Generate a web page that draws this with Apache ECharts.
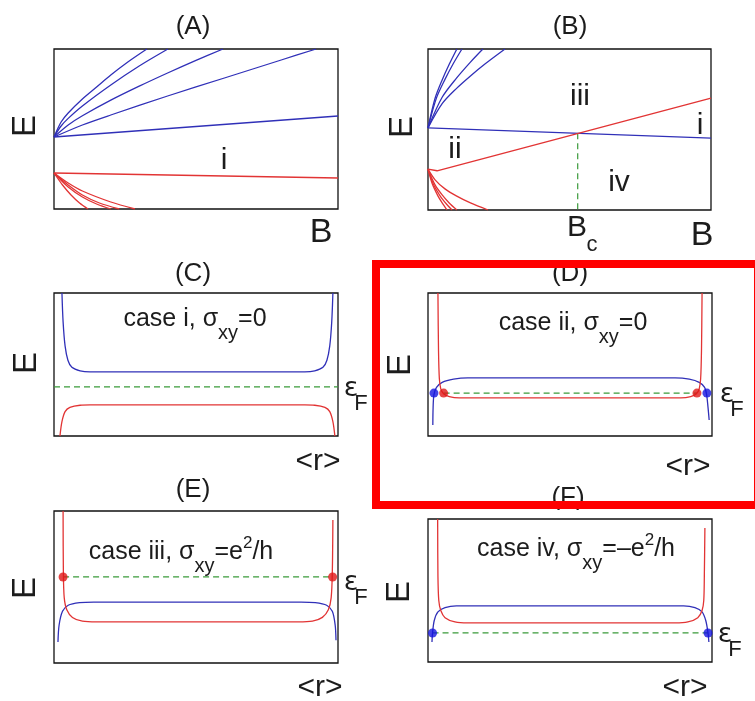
<!DOCTYPE html>
<html>
<head>
<meta charset="utf-8">
<script src="https://cdn.jsdelivr.net/npm/echarts@6/dist/echarts.min.js"></script>
<style>
  html, body { margin: 0; padding: 0; background: #ffffff; }
  #chart { width: 755px; height: 701px; }
</style>
</head>
<body>
<div id="chart"></div>
<script>
// ---------- Panel (A): Landau levels vs B, normal regime (B from 0 to 10, E from -4 to 4)
const aBlueZero = [[0, -0.4], [10, 0.65]];
const aBlueFan = [
  [[0, -0.4], [0.25, 0.35], [0.5, 0.8], [1, 1.5], [1.5, 2.1], [2, 2.7], [2.6, 3.35], [3.27, 4.0]],
  [[0, -0.4], [0.25, 0.15], [0.5, 0.53], [1, 1.15], [2, 2.2], [3, 3.15], [4.01, 4.0]],
  [[0, -0.4], [0.5, 0.2], [1, 0.66], [2, 1.44], [3, 2.14], [4, 2.8], [5, 3.43], [5.95, 4.0]],
  [[0, -0.4], [1, 0.2], [2, 0.7], [4, 1.65], [6, 2.55], [8, 3.45], [9.23, 4.0]]
];
const aRedZero = [[0, -2.2], [10, -2.45]];
const aRedFan = [
  [[0, -2.2], [0.3, -2.8], [0.6, -3.3], [0.9, -3.7], [1.2, -4.0]],
  [[0, -2.2], [0.5, -2.9], [1, -3.4], [1.5, -3.75], [2.0, -4.0]],
  [[0, -2.2], [0.5, -2.8], [1, -3.3], [1.6, -3.7], [2.3, -4.0]],
  [[0, -2.2], [0.5, -2.7], [1, -3.1], [2, -3.65], [2.85, -4.0]]
];

// ---------- Panel (B): inverted regime, zero modes cross at B_c
const bBlueZero = [[0, 0.08], [10, -0.43]];
const bBlueFan = [
  [[0, 0.08], [0.25, 1.55], [0.5, 2.46], [0.75, 3.24], [1.02, 4.0]],
  [[0, 0.08], [0.3, 1.57], [0.6, 2.49], [0.9, 3.29], [1.2, 4.0]],
  [[0, 0.08], [0.5, 1.6], [1, 2.54], [1.5, 3.35], [1.94, 4.0]],
  [[0, 0.08], [0.5, 1.28], [1, 2.03], [1.5, 2.66], [2, 3.24], [2.72, 4.0]]
];
const bRedZero = [[0, -1.97], [0.32, -2.05], [10, 1.56]];
const bRedFan = [
  [[0, -1.97], [0.15, -2.7], [0.35, -3.3], [0.5, -3.65], [0.67, -4.0]],
  [[0, -1.97], [0.2, -2.75], [0.45, -3.35], [0.65, -3.7], [0.85, -4.0]],
  [[0, -1.97], [0.25, -2.75], [0.5, -3.25], [0.75, -3.65], [1.02, -4.0]],
  [[0, -1.97], [0.25, -2.5], [0.6, -2.95], [1.0, -3.3], [1.5, -3.65], [2.12, -4.0]]
];
const bCritical = [[5.29, -0.19], [5.29, -4.0]];

// ---------- Panels (C)-(F): edge spectra E vs <r> (r from 0 to 10, E from 0 to 10)
const cBlue = [[0.28, 10], [0.32, 8], [0.39, 6.3], [0.49, 5.3], [0.63, 4.8], [0.92, 4.55], [1.27, 4.48],
  [8.83, 4.48], [9.18, 4.55], [9.47, 4.8], [9.61, 5.3], [9.71, 6.3], [9.78, 8], [9.82, 10]];
const cRed = [[0.21, 0], [0.28, 1.0], [0.39, 1.7], [0.56, 2.0], [0.92, 2.15], [1.27, 2.17],
  [8.83, 2.17], [9.18, 2.15], [9.54, 2.0], [9.71, 1.7], [9.82, 1.0], [9.89, 0]];
const cFermi = [[0, 3.43], [10, 3.43]];

const dRed = [[0.35, 10], [0.37, 6], [0.40, 4.0], [0.45, 3.3], [0.55, 2.95], [0.75, 2.75], [1.1, 2.66],
  [8.9, 2.66], [9.25, 2.75], [9.45, 2.95], [9.55, 3.3], [9.6, 4.0], [9.63, 6], [9.65, 10]];
const dBlue = [[0.17, 0.77], [0.18, 2.0], [0.21, 2.9], [0.3, 3.4], [0.5, 3.75], [0.9, 3.97], [1.4, 4.06],
  [8.7, 4.06], [9.2, 3.97], [9.55, 3.75], [9.74, 3.4], [9.81, 2.9], [9.86, 2.0], [9.9, 1.12]];
const dFermi = [[0.55, 3.0], [9.47, 3.0]];
const dRedDots = [[0.55, 3.0], [9.47, 3.0]];
const dBlueDots = [[0.21, 3.0], [9.82, 3.0]];

const eRed = [[0.32, 10], [0.33, 6], [0.36, 4.3], [0.45, 3.5], [0.65, 3.0], [1.0, 2.75], [1.5, 2.7],
  [8.6, 2.7], [9.1, 2.75], [9.45, 3.0], [9.66, 3.5], [9.76, 4.3], [9.8, 6], [9.82, 9.4]];
const eBlue = [[0.14, 1.38], [0.18, 2.5], [0.3, 3.4], [0.5, 3.8], [0.9, 3.97], [1.4, 4.01],
  [8.7, 4.01], [9.2, 3.97], [9.6, 3.8], [9.8, 3.4], [9.9, 2.5], [9.93, 1.5]];
const eFermi = [[0.32, 5.66], [9.81, 5.66]];
const eRedDots = [[0.32, 5.66], [9.81, 5.66]];

const fRed = [[0.34, 10], [0.35, 6], [0.38, 4.3], [0.45, 3.6], [0.6, 3.1], [0.95, 2.8], [1.4, 2.73],
  [8.7, 2.73], [9.15, 2.8], [9.5, 3.1], [9.65, 3.6], [9.71, 4.3], [9.73, 6], [9.75, 9.37]];
const fBlue = [[0.14, 1.4], [0.16, 2.03], [0.22, 2.9], [0.35, 3.5], [0.6, 3.8], [1.0, 3.92],
  [9.0, 3.92], [9.4, 3.8], [9.65, 3.5], [9.78, 2.9], [9.86, 2.03], [9.89, 1.4]];
const fFermi = [[0.16, 2.03], [9.86, 2.03]];
const fBlueDots = [[0.16, 2.03], [9.86, 2.03]];

// ---------- styling
const BLUE = '#3030b8';
const RED = '#e23434';
const GREEN = '#3a9a3a';
const INK = '#1c1c1c';
const FAMILY = '"Liberation Sans", Arial, sans-serif';
const GREEK = '"DejaVu Sans", sans-serif';

// frame boxes of the six panels
const frames = [
  { left: 54, top: 49, width: 284, height: 160, x: [0, 10], y: [-4, 4] },   // A
  { left: 428, top: 49, width: 283, height: 161, x: [0, 10], y: [-4, 4] },  // B
  { left: 54, top: 293, width: 284, height: 143, x: [0, 10], y: [0, 10] },  // C
  { left: 428, top: 293, width: 284, height: 143, x: [0, 10], y: [0, 10] }, // D
  { left: 54, top: 511, width: 284, height: 152, x: [0, 10], y: [0, 10] },  // E
  { left: 428, top: 519, width: 284, height: 143, x: [0, 10], y: [0, 10] }  // F
];

const grids = frames.map(f => ({
  left: f.left, top: f.top, width: f.width, height: f.height,
  show: true, borderColor: '#111', borderWidth: 1.3, backgroundColor: 'transparent'
}));
const xAxes = frames.map((f, i) => ({ type: 'value', gridIndex: i, min: f.x[0], max: f.x[1], show: false }));
const yAxes = frames.map((f, i) => ({ type: 'value', gridIndex: i, min: f.y[0], max: f.y[1], show: false }));

function curve(panel, data, color, smooth) {
  return {
    type: 'line', xAxisIndex: panel, yAxisIndex: panel, data: data,
    showSymbol: false, symbol: 'none', smooth: smooth === undefined ? 0.3 : smooth,
    lineStyle: { color: color, width: 1.3 }, silent: true, animation: false, z: 3
  };
}
function dashed(panel, data) {
  return {
    type: 'line', xAxisIndex: panel, yAxisIndex: panel, data: data,
    showSymbol: false, symbol: 'none',
    lineStyle: { color: GREEN, width: 1.2, type: [6, 4] }, silent: true, animation: false, z: 2
  };
}
function dots(panel, data, color) {
  return {
    type: 'scatter', xAxisIndex: panel, yAxisIndex: panel, data: data,
    symbolSize: 9, itemStyle: { color: color }, silent: true, animation: false, z: 5
  };
}

const series = [];
// A
series.push(curve(0, aBlueZero, BLUE, false));
aBlueFan.forEach(d => series.push(curve(0, d, BLUE)));
series.push(curve(0, aRedZero, RED, false));
aRedFan.forEach(d => series.push(curve(0, d, RED)));
// B
series.push(curve(1, bBlueZero, BLUE, false));
bBlueFan.forEach(d => series.push(curve(1, d, BLUE)));
series.push(curve(1, bRedZero, RED, false));
bRedFan.forEach(d => series.push(curve(1, d, RED)));
series.push(dashed(1, bCritical));
// C
series.push(curve(2, cBlue, BLUE), curve(2, cRed, RED), dashed(2, cFermi));
// D
series.push(dashed(3, dFermi), curve(3, dBlue, BLUE), curve(3, dRed, RED),
  dots(3, dRedDots, '#e01818'), dots(3, dBlueDots, '#1414e0'));
// E
series.push(dashed(4, eFermi), curve(4, eBlue, BLUE), curve(4, eRed, RED), dots(4, eRedDots, '#e01818'));
// F
series.push(dashed(5, fFermi), curve(5, fBlue, BLUE), curve(5, fRed, RED), dots(5, fBlueDots, '#1414e0'));

// ---------- text helpers
function label(x, y, text, size, rotation, family) {
  return {
    type: 'text', x: x, y: y, rotation: rotation || 0, z: 10, silent: true,
    style: {
      text: text, font: size + 'px ' + (family || FAMILY), fill: INK,
      align: 'center', verticalAlign: 'middle', textAlign: 'center', textVerticalAlign: 'middle'
    }
  };
}
// Fermi level tag: epsilon with subscript F
function fermiTag(x, y) {
  return [label(x, y, 'ε', 27, 0, GREEK), label(x + 10, y + 15, 'F', 22)];
}
const measure = document.createElement('canvas').getContext('2d');
// a run of pieces [text, fontSize, verticalShift] laid out left to right, centred on cx
function run(cx, cy, pieces) {
  const widths = pieces.map(p => { measure.font = p[1] + 'px ' + FAMILY; return measure.measureText(p[0]).width; });
  let x = cx - widths.reduce((a, b) => a + b, 0) / 2;
  return pieces.map((p, i) => {
    const el = {
      type: 'text', x: x, y: cy + p[2], z: 10, silent: true,
      style: {
        text: p[0], font: p[1] + 'px ' + FAMILY, fill: INK,
        align: 'left', verticalAlign: 'middle', textAlign: 'left', textVerticalAlign: 'middle'
      }
    };
    x += widths[i];
    return el;
  });
}

const UP = Math.PI / 2;
const graphics = [
  label(193, 27, '(A)', 26), label(570, 27, '(B)', 26),
  label(193, 274, '(C)', 26), label(570, 274, '(D)', 26),
  label(193, 490, '(E)', 26), label(568, 498, '(F)', 26),

  label(26, 126, 'E', 33, UP), label(403, 127, 'E', 33, UP),
  label(27, 363, 'E', 33, UP), label(401, 365, 'E', 33, UP),
  label(26, 588, 'E', 33, UP), label(400, 592, 'E', 33, UP),

  label(321, 233, 'B', 34), label(702, 236, 'B', 34),
  label(577, 228, 'B', 30), label(592, 245, 'c', 22),

  label(318, 462, '<r>', 30), label(688, 467, '<r>', 30),
  label(320, 688, '<r>', 30), label(685, 688, '<r>', 30),

  ...fermiTag(351, 389), ...fermiTag(727, 395),
  ...fermiTag(351, 583), ...fermiTag(725, 635),

  label(224, 161, 'i', 30),
  label(580, 97, 'iii', 30), label(700, 126, 'i', 30),
  label(455, 150, 'ii', 30), label(619, 183, 'iv', 30)
];
graphics.push(...run(195, 319, [['case i, σ', 25, 0], ['xy', 20, 14], ['=0', 25, 0]]));
graphics.push(...run(573, 323, [['case ii, σ', 25, 0], ['xy', 20, 14], ['=0', 25, 0]]));
graphics.push(...run(181, 552, [['case iii, σ', 25, 0], ['xy', 20, 14], ['=e', 25, 0], ['2', 17, -9], ['/h', 25, 0]]));
graphics.push(...run(576, 549, [['case iv, σ', 25, 0], ['xy', 20, 14], ['=–e', 25, 0], ['2', 17, -9], ['/h', 25, 0]]));

// highlight frame around panel (D)
graphics.push({
  type: 'rect', z: 20, silent: true,
  shape: { x: 376, y: 264, width: 382, height: 241 },
  style: { fill: 'none', stroke: '#ff0000', lineWidth: 8 }
});

const chart = echarts.init(document.getElementById('chart'), null, { renderer: 'canvas' });
chart.setOption({
  animation: false,
  backgroundColor: '#ffffff',
  grid: grids,
  xAxis: xAxes,
  yAxis: yAxes,
  series: series,
  graphic: { elements: graphics }
});
</script>
</body>
</html>
